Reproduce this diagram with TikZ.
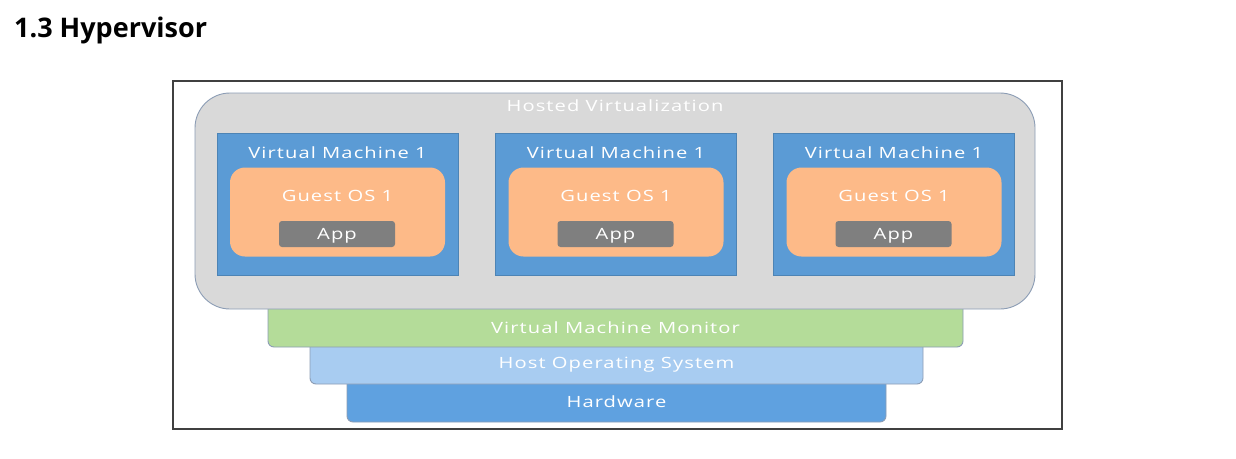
\documentclass[tikz,border=0pt]{standalone}
\usepackage{fontspec}
\setmainfont{Open Sans}
\newfontfamily\lbl[LetterSpace=7,FakeStretch=1.3]{Open Sans}
\definecolor{hostgray}{HTML}{D9D9D9}
\definecolor{edgeblue}{HTML}{8C9DB5}
\definecolor{vmblue}{HTML}{5B9BD5}
\definecolor{peach}{HTML}{FDBA88}
\definecolor{appgray}{HTML}{7F7F7F}
\definecolor{vmmgreen}{HTML}{B4DC99}
\definecolor{hostblue}{HTML}{A8CCF1}
\definecolor{hwblue}{HTML}{5FA1E0}
\definecolor{framegray}{HTML}{404040}
\begin{document}
\begin{tikzpicture}[x=1pt,y=-1pt,
  lbltext/.style={text=white,font=\lbl\fontsize{15.5}{17}\selectfont,inner sep=0pt},
  layer/.style={draw=edgeblue,line width=0.9pt,rounded corners=6pt,inner sep=0pt},
  vmbox/.style={fill=vmblue,draw=vmblue!85!black,line width=0.6pt,minimum width=241pt,minimum height=142pt,inner sep=0pt},
  guestbox/.style={fill=peach,draw=none,rounded corners=15pt,minimum width=215pt,minimum height=89pt,inner sep=0pt},
  appbox/.style={fill=appgray,draw=none,rounded corners=3pt,minimum width=116pt,minimum height=26pt,inner sep=0pt}]
\useasboundingbox (0,0) rectangle (1236,458);
\fill[white] (0,0) rectangle (1236,458);
% title
\node[anchor=base west,inner sep=0pt,font=\bfseries\fontsize{27}{30}\selectfont] (title) at (14,37) {1.3 Hypervisor};
% frame
\node[draw=framegray,line width=1.2pt,minimum width=889pt,minimum height=348pt,inner sep=0pt] (frame) at (617.5,255) {};
% layers (bottom up)
\node[layer,fill=hwblue,minimum width=539pt,minimum height=48pt] (hw) at (616.5,398) {};
\node[lbltext] (hwt) at (616.5,401.5) {Hardware};
\node[layer,fill=hostblue,minimum width=613pt,minimum height=47pt] (host) at (616.5,360.5) {};
\node[lbltext] (hostt) at (616.5,364.5) {Host Operating System};
\node[layer,fill=vmmgreen,minimum width=695pt,minimum height=48pt] (vmm) at (615.5,323) {};
\node[lbltext] (vmmt) at (615.5,327.5) {Virtual Machine Monitor};
% hosted virtualization
\node[fill=hostgray,draw=edgeblue,line width=0.9pt,rounded corners=35pt,minimum width=840pt,minimum height=216pt,inner sep=0pt] (hosted) at (615,201) {};
\node[lbltext] (hostedt) at (615,105.5) {Hosted Virtualization};
% VMs
\foreach \i/\x in {1/337.5,2/616,3/894}{
  \node[vmbox] (vm\i) at (\x,204) {};
  \node[lbltext] (vmt\i) at (\x,152.5) {Virtual Machine 1};
  \node[guestbox] (g\i) at (\x,212) {};
  \node[lbltext] (gt\i) at (\x,195.5) {Guest OS 1};
  \node[appbox] (a\i) at (\x-0.5,234) {};
  \node[lbltext] (at\i) at (\x-0.5,235.5) {App};
}
\end{tikzpicture}
\end{document}
